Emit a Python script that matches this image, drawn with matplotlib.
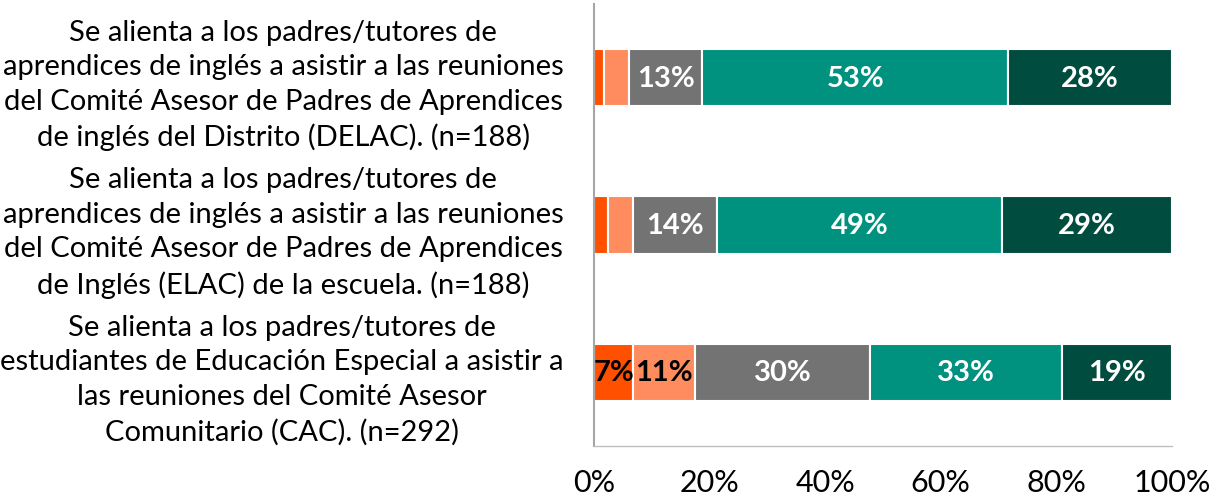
import matplotlib
matplotlib.use("Agg")
import matplotlib.pyplot as plt
import numpy as np

plt.rcParams['font.family'] = ['Lato', 'DejaVu Sans']

categories = [
    "Se alienta a los padres/tutores de\naprendices de inglés a asistir a las reuniones\ndel Comité Asesor de Padres de Aprendices\nde inglés del Distrito (DELAC). (n=188)",
    "Se alienta a los padres/tutores de\naprendices de inglés a asistir a las reuniones\ndel Comité Asesor de Padres de Aprendices\nde Inglés (ELAC) de la escuela. (n=188)",
    "Se alienta a los padres/tutores de\nestudiantes de Educación Especial a asistir a\nlas reuniones del Comité Asesor\nComunitario (CAC). (n=292)",
]
s1 = [1.8, 2.4, 6.8]
s2 = [4.3, 4.4, 10.7]
s3 = [12.6, 14.4, 30.3]
s4 = [53.0, 49.4, 33.2]
s5 = [28.3, 29.4, 19.0]
series = [s1, s2, s3, s4, s5]
colors = ['#FF5000', '#FF8C5E', '#737373', '#00927F', '#004D40']
text_colors = ['black', 'black', 'white', 'white', 'white']
xticks = [0, 20, 40, 60, 80, 100]

fig = plt.figure(figsize=(12.2, 5.02), dpi=100)
ax = fig.add_axes([594/1220, 55/502, 578/1220, 442/502])

y = np.arange(len(categories))
left = np.zeros(len(categories))
for vals, c, tc in zip(series, colors, text_colors):
    vals = np.array(vals)
    ax.barh(y, vals, left=left, height=0.39, color=c, edgecolor='white', linewidth=1.5)
    for yi, l, v in zip(y, left, vals):
        if v >= 5:
            ax.text(l + v / 2, yi, f"{round(v)}%", ha='center', va='center',
                    color=tc, fontsize=21, fontweight='bold')
    left += vals

ax.set_xlim(0, 100)
ax.set_ylim(2.5, -0.5)
ax.set_yticks(y)
ax.set_yticklabels(categories, fontsize=21, multialignment='center', linespacing=1.4)
ax.set_xticks(xticks)
ax.set_xticklabels([f"{t}%" for t in xticks], fontsize=22)
ax.tick_params(axis='y', length=0, pad=22)
ax.tick_params(axis='x', length=0, pad=16)
for s in ['top', 'right']:
    ax.spines[s].set_visible(False)
ax.spines['left'].set_color('#A6A6A6')
ax.spines['bottom'].set_color('#BFBFBF')
ax.spines['left'].set_linewidth(1.5)
ax.spines['bottom'].set_linewidth(1.0)

fig.savefig('out.png', dpi=100)
